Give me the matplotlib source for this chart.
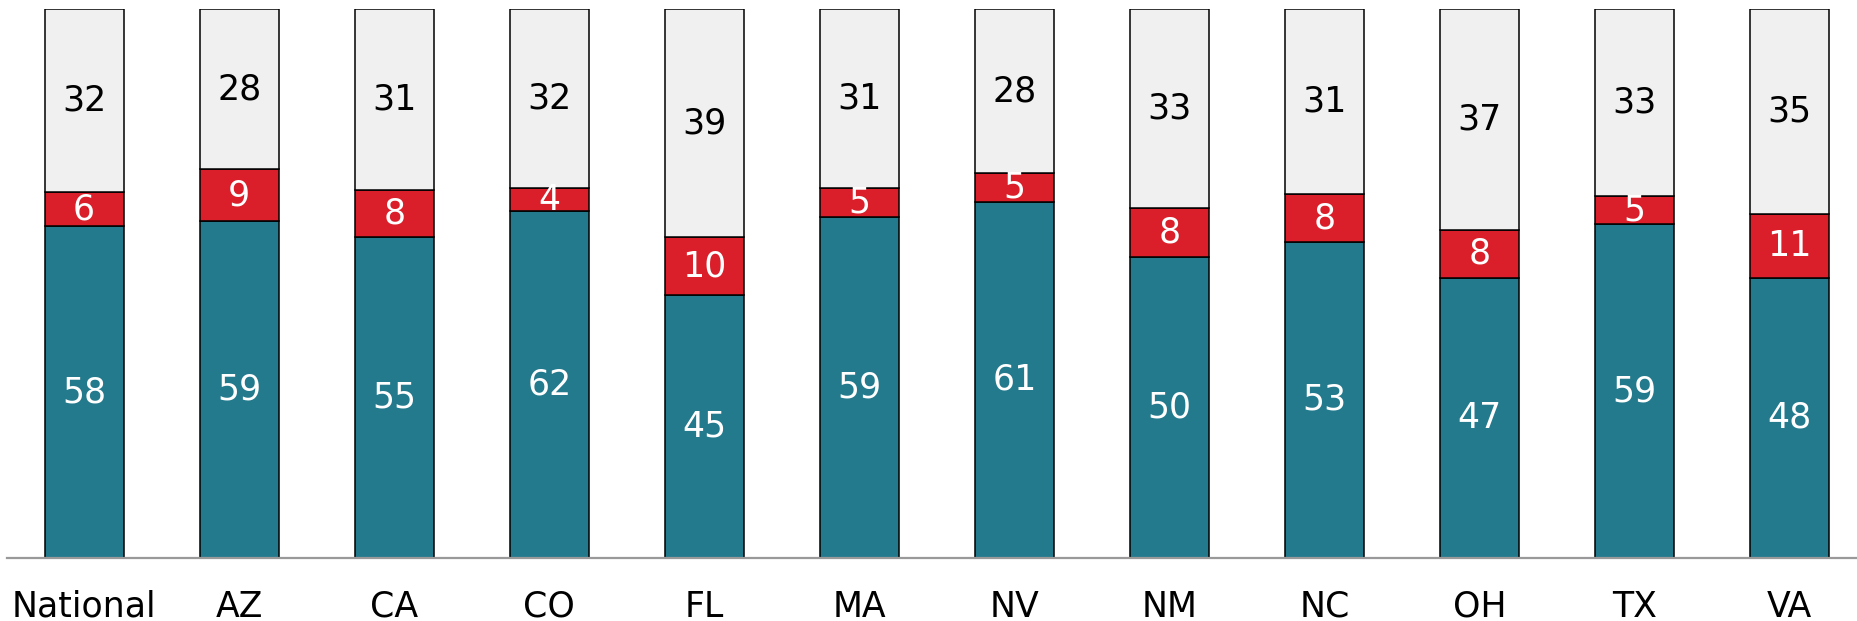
import numpy as np
import matplotlib.pyplot as plt

states = ['National', 'AZ', 'CA', 'CO', 'FL', 'MA', 'NV', 'NM', 'NC', 'OH', 'TX', 'VA']
bottom_vals = [58, 59, 55, 62, 45, 59, 61, 50, 53, 47, 59, 48]
middle_vals = [6, 9, 8, 4, 10, 5, 5, 8, 8, 8, 5, 11]
top_vals = [32, 28, 31, 32, 39, 31, 28, 33, 31, 37, 33, 35]

teal = '#237a8d'
red = '#da1f2a'
grey = '#f0f0f0'

plt.rcParams['font.family'] = ['DejaVu Sans']

# 100% stacked: shares of each bar's total
b = np.array(bottom_vals, float)
m = np.array(middle_vals, float)
t = np.array(top_vals, float)
tot = b + m + t
bs, ms, ts = b / tot, m / tot, t / tot

fig = plt.figure(figsize=(18.58, 6.21), dpi=100)
ax = fig.add_axes([7 / 1858, 63 / 621, 1 - 7 / 1858, 548.7 / 621])

x = np.arange(len(states))
w = 0.51
ax.bar(x, bs, w, color=teal, edgecolor='black', linewidth=1.1)
ax.bar(x, ms, w, bottom=bs, color=red, edgecolor='black', linewidth=1.1)
ax.bar(x, ts, w, bottom=bs + ms, color=grey, edgecolor='black', linewidth=1.1)

for i in range(len(states)):
    ax.text(x[i], bs[i] / 2, str(bottom_vals[i]), ha='center', va='center',
            color='white', fontsize=25)
    ax.text(x[i], bs[i] + ms[i] / 2, str(middle_vals[i]), ha='center', va='center',
            color='white', fontsize=25)
    ax.text(x[i], bs[i] + ms[i] + ts[i] / 2, str(top_vals[i]), ha='center', va='center',
            color='black', fontsize=25)

ax.set_xlim(-0.497, 11.44)
ax.set_ylim(0, 1)
ax.set_yticks([])
ax.set_xticks(x)
ax.set_xticklabels(states, fontsize=25)
ax.tick_params(axis='x', length=0, pad=23)
for s in ['top', 'right', 'left']:
    ax.spines[s].set_visible(False)
ax.spines['bottom'].set_color('#999999')
ax.spines['bottom'].set_linewidth(1.6)
ax.set_facecolor('white')

fig.savefig('out.png', dpi=100)
